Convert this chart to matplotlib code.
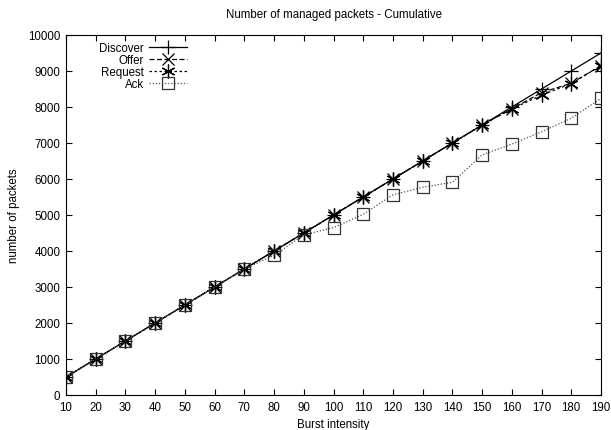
import matplotlib
matplotlib.use("Agg")
import matplotlib.pyplot as plt

plt.rcParams['font.family'] = ['Liberation Sans', 'DejaVu Sans']

x = [10, 20, 30, 40, 50, 60, 70, 80, 90, 100, 110, 120, 130, 140, 150, 160, 170, 180, 190]
discover = [500, 1000, 1500, 2000, 2500, 3000, 3500, 4000, 4500, 5000, 5500, 6000, 6500, 7000, 7500, 8000, 8500, 9000, 9500]
offer = [500, 1000, 1500, 2000, 2500, 3000, 3500, 4000, 4500, 5000, 5500, 6000, 6500, 7000, 7500, 7950, 8400, 8660, 9150]
request = [500, 1000, 1500, 2000, 2500, 3000, 3500, 4000, 4500, 5000, 5500, 6000, 6500, 7000, 7500, 7950, 8330, 8650, 9150]
ack = [500, 1000, 1500, 2000, 2500, 3000, 3500, 3880, 4450, 4650, 5020, 5560, 5770, 5910, 6670, 6970, 7310, 7690, 8240]

fs = 8.3
fig = plt.figure(figsize=(6.11, 4.31), dpi=100)
ax = fig.add_axes([66/611, 1-396/431, (601-66)/611, (396-36)/431])

ax.plot(x, discover, color='black', lw=0.9, ls='-', marker='+', ms=10, mew=0.9, label='Discover')
ax.plot(x, offer, color='black', lw=0.9, ls=(0, (4, 2)), marker='x', ms=8, mew=0.9, label='Offer')
ax.plot(x, request, color='black', lw=0.9, ls=(0, (2, 2)), marker=(6, 2, 0), ms=10, mew=0.9, label='Request')
ax.plot(x, ack, color='#555555', lw=0.9, ls=(0, (1, 1.5)), marker='s', ms=9, mew=0.9,
        mfc='none', mec='#333333', label='Ack')

ax.set_xlim(10, 190)
ax.set_ylim(0, 10000)
ax.set_xticks(range(10, 191, 10))
ax.set_yticks(range(0, 10001, 1000))
ax.tick_params(direction='in', top=True, right=True, labelsize=fs, length=4, width=0.8, pad=4)
for s in ax.spines.values():
    s.set_linewidth(0.8)

ax.set_title('Number of managed packets - Cumulative', fontsize=fs, pad=13)
ax.set_xlabel('Burst intensity', fontsize=fs, labelpad=4)
ax.set_ylabel('number of packets', fontsize=fs, labelpad=6)

leg = ax.legend(loc='upper right', markerfirst=False, frameon=False, fontsize=fs,
                handlelength=3.3, handletextpad=0.4, labelspacing=0.0,
                borderaxespad=0.0, borderpad=0.3,
                bbox_to_anchor=((190-66)/535, 1.0 - 4/360))
for t in leg.get_texts():
    t.set_ha('right')
leg._legend_box.align = 'right'

fig.savefig('out.png', dpi=100)
